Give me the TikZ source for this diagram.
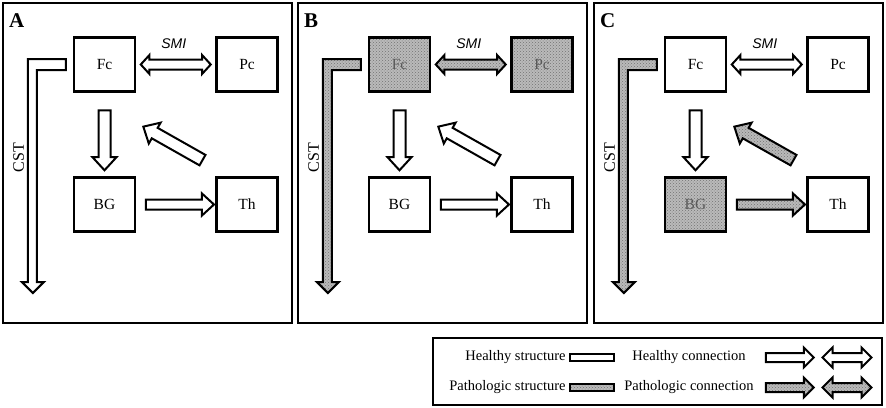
\documentclass[tikz,border=0pt]{standalone}
\usepackage{fontspec}
\setmainfont{Liberation Serif}
\newfontfamily\smifont{Liberation Sans}
\usetikzlibrary{shapes.arrows,patterns,calc,positioning}

\tikzset{
  okfill/.style={fill=white},
  sickfill/.style={preaction={fill=black!27}, pattern=crosshatch dots, pattern color=black!55},
  region/.style={draw, line width=2.3pt, minimum width=61pt, minimum height=54pt, inner sep=0pt, font=\fontsize{15.5}{18}\selectfont},
  okregion/.style={region, okfill},
  sickregion/.style={region, sickfill, text=black!65},
  frame/.style={draw, line width=2.5pt},
  conn/.style={single arrow, draw, line width=2pt, line join=miter, inner xsep=0pt, single arrow tip angle=85},
  vconn/.style={conn, inner ysep=5pt, single arrow head extend=6pt, minimum height=60pt, rotate=-90},
  hconn/.style={conn, inner ysep=4pt, single arrow head extend=6pt, minimum height=68pt},
  dconn/.style={conn, inner ysep=5pt, single arrow head extend=6pt, minimum height=68pt, rotate=150.5},
  biconn/.style={double arrow, draw, line width=2pt, line join=miter, inner xsep=0pt, inner ysep=4pt, double arrow head extend=4.5pt, double arrow tip angle=95, minimum height=70pt},
  cst/.style={draw, line width=2pt, line join=miter},
  cstlbl/.style={rotate=90, anchor=base, inner sep=0pt, font=\fontsize{16}{18}\selectfont},
  smilbl/.style={inner sep=0pt, font=\smifont\itshape\fontsize{14}{16}\selectfont},
  panellbl/.style={anchor=base west, inner sep=0pt, font=\bfseries\fontsize{21}{22}\selectfont},
  legtext/.style={inner sep=0pt, font=\fontsize{14.5}{16}\selectfont},
  swatch/.style={draw, line width=2.3pt, minimum width=44pt, minimum height=7pt, inner sep=0pt},
  legconn/.style={conn, inner ysep=3.5pt, single arrow head extend=5.5pt, single arrow tip angle=90, minimum height=48pt},
  legbiconn/.style={double arrow, draw, line width=2pt, line join=miter, inner xsep=0pt, inner ysep=3.5pt, double arrow head extend=5.5pt, double arrow tip angle=90, minimum height=49pt},
}

\begin{document}
\begin{tikzpicture}[x=1pt, y=-1pt]
\useasboundingbox (0,0) rectangle (886,407);

% three panels: A healthy, B and C with pathologic parts
\foreach \pn/\sx/\fcs/\pcs/\bgs/\smis/\csts/\bths/\diags in {
  A/0/okregion/okregion/okregion/okfill/okfill/okfill/okfill,
  B/295/sickregion/sickregion/okregion/sickfill/sickfill/okfill/okfill,
  C/591/okregion/okregion/sickregion/okfill/sickfill/sickfill/sickfill}{
\begin{scope}[xshift=\sx]
  \draw[frame] (3,3) rectangle (292,323);
  \node[panellbl] at (9,27) {\pn};

  \node[\fcs] (fc) at (104.5,64.5) {Fc};
  \node[\pcs] (pc) at (247,64.5) {Pc};
  \node[\bgs] (bg) at (104.5,204.5) {BG};
  \node[okregion] (th) at (247,204.5) {Th};

  \node[biconn, \smis] (smi) at ($(fc.east)!0.5!(pc.west)$) {};
  \node[smilbl] at ($(smi.center)+(-2,-21)$) {SMI};
  \node[vconn, okfill] (fcbg) at ($(fc.south)!0.5!(bg.north)+(0,2.5)$) {};
  \node[hconn, \bths] (bgth) at ($(bg.east)!0.5!(th.west)+(1.5,0)$) {};
  \node[dconn, \diags] (thfc) at ($(fc.south east)!0.5!(th.north west)+(0,10.5)$) {};

  % corticospinal tract
  \draw[cst, \csts] ($(fc.west)+(-7,-5.5)$) -- ++(-38,0) -- ++(0,223) -- ++(-6,0)
    -- ++(11,11) -- ++(11,-11) -- ++(-7,0) -- ++(0,-212) -- ++(29,0) -- cycle;
  \node[cstlbl] at ($(fc.west)+(-49,93)$) {CST};
\end{scope}
}

% legend
\draw[frame] (433,338) rectangle (882,405);
\node[swatch, okfill] (hs) at (592,357.5) {};
\node[legtext, left=3pt of hs] {Healthy structure};
\node[swatch, sickfill] (ps) at (592,387.5) {};
\node[legtext, left=3pt of ps] {Pathologic structure};
\node[legtext] (hctext) at (689,357) {Healthy connection};
\node[legtext] (pctext) at (689,387) {Pathologic connection};
\node[legconn, okfill] (hc1) at (787.5,357.5) {};
\node[legbiconn, okfill] (hc2) at (847,357.5) {};
\node[legconn, sickfill] (pc1) at (787.5,387.5) {};
\node[legbiconn, sickfill] (pc2) at (847,387.5) {};
\end{tikzpicture}
\end{document}
